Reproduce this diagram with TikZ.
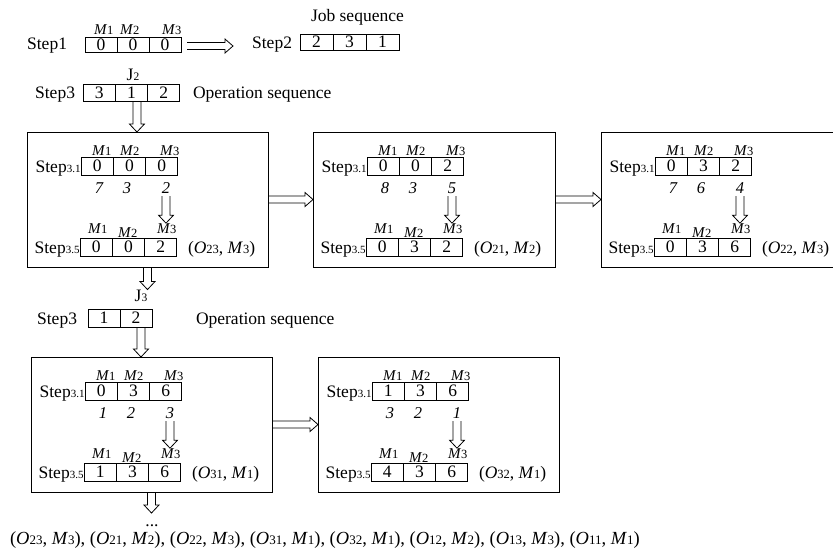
\documentclass[tikz,border=0pt]{standalone}
\usepackage{fontspec}
\setmainfont{Liberation Serif}
\usetikzlibrary{calc}
\newcommand\MM[2]{\textit{#1}{\fontsize{12.5}{13}\selectfont #2}}
\newcommand\MB[2]{\textit{#1}{\fontsize{13}{13}\selectfont #2}}
\newcommand\st[1]{Step{\fontsize{11}{11}\selectfont #1}}
\tikzset{
  every node/.style={font=\fontsize{17.5}{20}\selectfont, inner sep=0pt, outer sep=0pt},
  cell/.style={draw, line width=0.9pt, minimum height=18, anchor=west},
  bigbox/.style={draw, line width=0.9pt, minimum width=241, minimum height=135, anchor=north west},
  mlab/.style={anchor=base west, font=\fontsize{15}{15}\selectfont},
  num/.style={anchor=base, font=\fontsize{16.5}{16}\selectfont\itshape},
  lab/.style={anchor=base east},
  txt/.style={anchor=base west},
  arr/.style={draw, line width=0.8pt, line join=miter},
}
\newcommand\rowthree[6][]{%
  \node[cell, minimum width=#4, #1] (#2a) at #3 {#5};
  \node[cell, minimum width=#4, #1] (#2b) at (#2a.east) {#6};
  \rowthreeC[#1]{#2}{#4}}
\newcommand\rowthreeC[4][]{\node[cell, minimum width=#3, #1] (#2c) at (#2b.east) {#4};}
\newcommand\numthree[4]{%
  \node[num] (#1na) at (72,61) {#2};
  \node[num] (#1nb) at (100,61) {#3};
  \node[num] (#1nc) at (139,61) {#4};}
\newcommand\innerbox[5]{%
  \node[lab] (#1lt) at (53.5,40) {\st{3.1}};
  \rowthree{#1t}{(54,34)}{32.3}#2
  \node[mlab] (#1m1) at (65,23) {\MM{M}{1}};
  \node[mlab] (#1m2) at (93,23) {\MM{M}{2}};
  \node[mlab] (#1m3) at (133,23) {\MM{M}{3}};
  \numthree{#1}#3
  \node[mlab] (#1m4) at (61,101) {\MM{M}{1}};
  \node[mlab] (#1m5) at (91,105) {\MM{M}{2}};
  \node[mlab] (#1m6) at (130,101) {\MM{M}{3}};
  \node[lab] (#1lb) at (52.5,121) {\st{3.5}};
  \rowthree{#1b}{(53,115)}{32.3}#4
  \node[txt] (#1o) at (161,121) {#5};}
% vertical hollow arrow: x from #2 (+#1), start y from #2, tip y from #3
\newcommand\varrow[3][0pt]{\path[arr] let \p1=#2, \p2=#3 in
  (\x1+#1-4pt,\y1) -- (\x1+#1-4pt,\y2+8pt) -- (\x1+#1-7.5pt,\y2+8pt) -- (\x1+#1,\y2)
  -- (\x1+#1+7.5pt,\y2+8pt) -- (\x1+#1+4pt,\y2+8pt) -- (\x1+#1+4pt,\y1);}
% horizontal hollow arrow: y from #1, start x from #1, tip x from #2
\newcommand\harrow[2]{\path[arr] let \p1=#1, \p2=#2 in
  (\x1,\y1+3.5pt) -- (\x2-8pt,\y1+3.5pt) -- (\x2-8pt,\y1+7pt) -- (\x2,\y1)
  -- (\x2-8pt,\y1-7pt) -- (\x2-8pt,\y1-3.5pt) -- (\x1,\y1-3.5pt);}
\begin{document}
\begin{tikzpicture}[x=1pt,y=-1pt]
\useasboundingbox (0,0) rectangle (833,552);
% ---- Step1 / Step2
\node[lab] (l1) at (67,49.5) {Step1};
\rowthree[minimum height=15]{s1}{(85,44.5)}{32}{0}{0}{0}
\node[mlab] (s1m1) at (94,34) {\MM{M}{1}};
\node[mlab] (s1m2) at (120,34) {\MM{M}{2}};
\node[mlab] (s1m3) at (162,34) {\MM{M}{3}};
\node[lab] (l2) at (292,48) {Step2};
\rowthree[minimum height=16]{s2}{(300,42)}{33}{2}{3}{1}
\node[txt] (job) at (311,21) {Job sequence};
\coordinate (a1s) at (187,46);
\coordinate (a1e) at (233,46);
\harrow{(a1s)}{(a1e)}
% ---- Step3 (J2)
\node[anchor=base] (j2) at (133,80) {J{\fontsize{11.5}{12}\selectfont 2}};
\node[lab] (l3) at (75,98) {Step3};
\rowthree[minimum height=17]{s3}{(83,92.5)}{32.3}{3}{1}{2}
\node[txt] (op1) at (193,98) {Operation sequence};
% ---- big boxes, first row
\node[bigbox] (B1) at (27,132) {};
\node[bigbox, minimum width=242] (B2) at (313,132) {};
\node[bigbox] (B3) at (601,132) {};
\begin{scope}[shift={(27,132)}]
  \innerbox{p}{{0}{0}{0}}{{7}{3}{2}}{{0}{0}{2}}{(\MM{O}{23}, \MM{M}{3})}
\end{scope}
\begin{scope}[shift={(313,132)}]
  \innerbox{q}{{0}{0}{2}}{{8}{3}{5}}{{0}{3}{2}}{(\MM{O}{21}, \MM{M}{2})}
\end{scope}
\begin{scope}[shift={(601,132)}]
  \innerbox{r}{{0}{3}{2}}{{7}{6}{4}}{{0}{3}{6}}{(\MM{O}{22}, \MM{M}{3})}
\end{scope}
\varrow[5.5pt]{(s3b.south)}{(B1.north)}
\harrow{(B1.east)}{(B2.west)}
\harrow{(B2.east)}{(B3.west)}
% ---- Step3 (J3)
\node[anchor=base] (j3) at (141,301) {J{\fontsize{11.5}{12}\selectfont 3}};
\varrow{(B1.south)}{(j3.north)}
\node[lab] (l4) at (77,324) {Step3};
\node[cell, minimum width=32, minimum height=18] (t2a) at (88,318) {1};
\node[cell, minimum width=32, minimum height=18] (t2b) at (t2a.east) {2};
\node[txt] (op2) at (196,324) {Operation sequence};
% ---- big boxes, second row
\node[bigbox] (B4) at (31,357) {};
\node[bigbox] (B5) at (318,357) {};
\begin{scope}[shift={(31,357)}]
  \innerbox{u}{{0}{3}{6}}{{1}{2}{3}}{{1}{3}{6}}{(\MM{O}{31}, \MM{M}{1})}
\end{scope}
\begin{scope}[shift={(318,357)}]
  \innerbox{v}{{1}{3}{6}}{{3}{2}{1}}{{4}{3}{6}}{(\MM{O}{32}, \MM{M}{1})}
\end{scope}
\varrow[5pt]{(t2b.south)}{(B4.north)}
\harrow{(B4.east)}{(B5.west)}
% ---- inner small arrows
\varrow{($(pnc.south)+(0,-3pt)$)}{(pm6.north)}
\varrow{($(qnc.south)+(0,-3pt)$)}{(qm6.north)}
\varrow{($(rnc.south)+(0,-3pt)$)}{(rm6.north)}
\varrow{($(unc.south)+(0,-3pt)$)}{(um6.north)}
\varrow{($(vnc.south)+(0,-3pt)$)}{(vm6.north)}
% ---- bottom
\coordinate (e4) at (152,513);
\varrow{(B4.south)}{(e4)}
\node[anchor=base] (dots) at (152,526) {...};
\node[txt, font=\fontsize{18.5}{20}\selectfont] (seq) at (10,544) {(\MB{O}{23}, \MB{M}{3}), (\MB{O}{21}, \MB{M}{2}), (\MB{O}{22}, \MB{M}{3}), (\MB{O}{31}, \MB{M}{1}), (\MB{O}{32}, \MB{M}{1}), (\MB{O}{12}, \MB{M}{2}), (\MB{O}{13}, \MB{M}{3}), (\MB{O}{11}, \MB{M}{1})};
\end{tikzpicture}
\end{document}
